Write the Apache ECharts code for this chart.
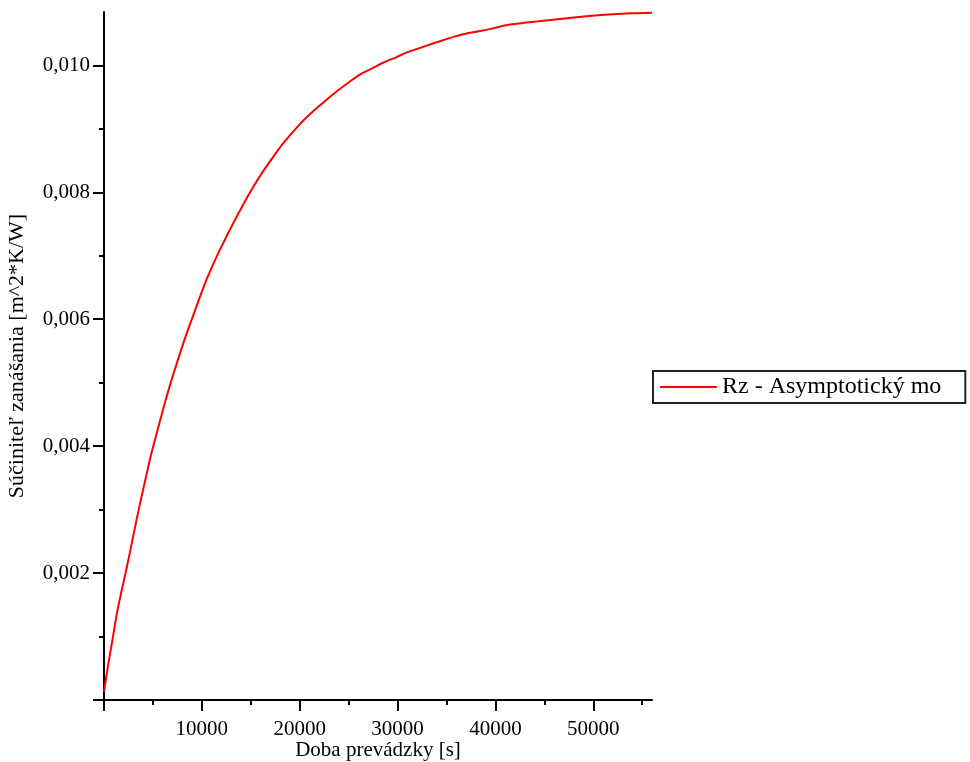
<!DOCTYPE html>
<html>
<head>
<meta charset="utf-8">
<script src="https://cdn.jsdelivr.net/npm/echarts@6/dist/echarts.min.js"></script>
<style>html,body{margin:0;padding:0;background:#fff}#c{width:970px;height:762px}</style>
</head>
<body>
<div id="c"></div>
<script>
// Time [s]
const timeS = [0, 400, 900, 1300, 1800, 2300, 2800, 3300, 3800, 4300, 4800, 5400, 5900, 6400, 6900, 8100, 9400, 10500, 11800, 13200, 14200, 15200, 16300, 17300, 18300, 20000, 21400, 22700, 23800, 25100, 26100, 27500, 28500, 29900, 30900, 32600, 34300, 36000, 37700, 39400, 41100, 43500, 45400, 47800, 50500, 53900, 56000];
// Rz [m^2*K/W]
const rzValues = [0.00013, 0.00053, 0.00098, 0.00135, 0.00172, 0.00207, 0.00244, 0.00282, 0.00318, 0.00352, 0.00386, 0.00421, 0.0045, 0.00478, 0.00504, 0.00562, 0.00618, 0.00663, 0.00708, 0.00751, 0.0078, 0.00807, 0.00834, 0.00856, 0.00877, 0.00907, 0.00928, 0.00945, 0.00959, 0.00974, 0.00985, 0.00996, 0.01004, 0.01013, 0.0102, 0.01029, 0.01038, 0.01046, 0.01052, 0.01057, 0.01063, 0.01068, 0.01071, 0.01075, 0.01079, 0.01082, 0.01083];
const xMajorTicks = [0, 10000, 20000, 30000, 40000, 50000];
const xMinorTicks = [5000, 15000, 25000, 35000, 45000, 55000];
const xTickLabels = [10000, 20000, 30000, 40000, 50000];
const yMajorTicks = [0, 0.002, 0.004, 0.006, 0.008, 0.010];
const yMinorTicks = [0.001, 0.003, 0.005, 0.007, 0.009];
const yTickLabels = [0.002, 0.004, 0.006, 0.008, 0.010];
const seriesName = 'Rz - Asymptotický model';
const xTitle = 'Doba prevádzky [s]';
const yTitle = 'Súčiniteľ zanášania [m^2*K/W]';

const FONT = 'Liberation Serif';
const X_MIN = 0, X_MAX = 56000, Y_MIN = 0, Y_MAX = 0.01084;
const lineStyle = {color: '#000', width: 2};

const chart = echarts.init(document.getElementById('c'), null, {renderer: 'canvas'});
chart.setOption({
  animation: false,
  backgroundColor: '#fff',
  grid: {left: 104, top: 12, right: 318, bottom: 62, containLabel: false, outerBoundsMode: 'none'},
  legend: {
    left: 653, top: 371,
    orient: 'vertical',
    data: [{name: seriesName, icon: 'rect'}],
    itemWidth: 57, itemHeight: 2, itemGap: 0,
    padding: [4, 24, 4, 7],
    borderColor: '#222', borderWidth: 2,
    textStyle: {fontFamily: FONT, fontSize: 24, color: '#000', width: 228, overflow: 'truncate', ellipsis: ''}
  },
  xAxis: [{
    type: 'value', min: X_MIN, max: X_MAX, position: 'bottom',
    name: xTitle, nameLocation: 'middle', nameGap: 40, nameMoveOverlap: false,
    nameTextStyle: {fontFamily: FONT, fontSize: 21, color: '#000'},
    axisLine: {show: true, onZero: false, lineStyle},
    axisTick: {show: true, length: 11, lineStyle, customValues: xMajorTicks},
    axisLabel: {fontFamily: FONT, fontSize: 21, color: '#000', margin: 19, customValues: xTickLabels,
      formatter: v => String(v)},
    splitLine: {show: false}
  }, {
    type: 'value', min: X_MIN, max: X_MAX, position: 'bottom', gridIndex: 0,
    axisLine: {show: false},
    axisTick: {show: true, length: 5, lineStyle, customValues: xMinorTicks},
    axisLabel: {show: false},
    splitLine: {show: false}
  }],
  yAxis: [{
    type: 'value', min: Y_MIN, max: Y_MAX, position: 'left',
    name: yTitle, nameLocation: 'middle', nameGap: 76, nameRotate: 90, nameMoveOverlap: false,
    nameTextStyle: {fontFamily: FONT, fontSize: 22, color: '#000'},
    axisLine: {show: true, onZero: false, lineStyle},
    axisTick: {show: true, length: 11, lineStyle, customValues: yMajorTicks},
    axisLabel: {fontFamily: FONT, fontSize: 21, color: '#000', margin: 14, customValues: yTickLabels,
      formatter: v => v.toFixed(3).replace('.', ',')},
    splitLine: {show: false}
  }, {
    type: 'value', min: Y_MIN, max: Y_MAX, position: 'left',
    axisLine: {show: false},
    axisTick: {show: true, length: 5, lineStyle, customValues: yMinorTicks},
    axisLabel: {show: false},
    splitLine: {show: false}
  }],
  series: [{
    name: seriesName, type: 'line',
    xAxisIndex: 0, yAxisIndex: 0,
    data: timeS.map((t, i) => [t, rzValues[i]]),
    showSymbol: false, symbol: 'none', smooth: 0.3,
    lineStyle: {color: '#ff0000', width: 2},
    itemStyle: {color: '#ff0000'},
    clip: false
  }]
});
</script>
</body>
</html>
